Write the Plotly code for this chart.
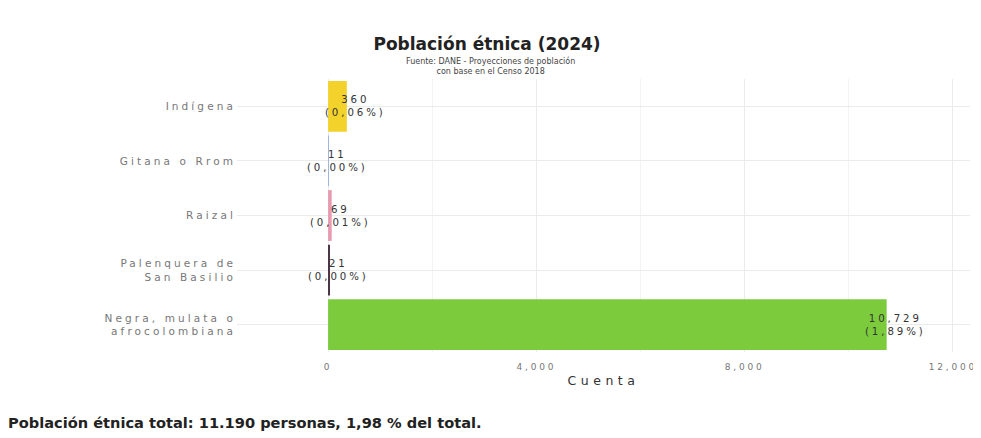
import plotly.graph_objects as go

categories = ["Indígena", "Gitana o Rrom", "Raizal", "Palenquera de<br>San Basilio", "Negra, mulata o<br>afrocolombiana"]
values = [360, 11, 69, 21, 10729]
pct_labels = ["0,06%", "0,00%", "0,01%", "0,00%", "1,89%"]
count_labels = ["360", "11", "69", "21", "10,729"]
colors = ["#F3D22B", "#9DB8E0", "#E79AB0", "#4A3646", "#7BCB3D"]
x_ticks = [0, 4000, 8000, 12000]
x_tick_text = ["0", "4,000", "8,000", "12,000"]

FONT = "DejaVu Sans"


def spaced(t, ls):
    return "<br>".join(f"<span style='letter-spacing:{ls}px'>{p}</span>" for p in t.split("<br>"))


fig = go.Figure()
fig.add_trace(go.Bar(
    y=categories, x=values, orientation="h",
    marker=dict(color=colors, line=dict(width=0)),
    width=0.93, showlegend=False, hoverinfo="skip",
))

for cat, v, c, p in zip(categories, values, count_labels, pct_labels):
    fig.add_annotation(
        x=v, y=cat, xref="x", yref="y",
        text=spaced(f"{c}<br>({p})", 2.9), showarrow=False,
        xanchor="center", yanchor="middle", xshift=9,
        font=dict(family=FONT, size=10.2, color="#333333"),
    )

L, R, T, B = 229, 19, 71, 94
PW = 981 - L - R
PH = 438 - T - B

fig.add_annotation(
    xref="paper", yref="paper", x=(482 - L) / PW, y=(PH - (58 - T)) / PH,
    text="Fuente: DANE - Proyecciones de población<br>con base en el Censo 2018",
    showarrow=False, xanchor="center", yanchor="middle",
    font=dict(family=FONT, size=8, color="#444444"),
)

fig.add_annotation(
    xref="paper", yref="paper", x=(-2 - L) / PW, y=(PH - (414 - T)) / PH,
    text="<b>Población étnica total: 11.190 personas, 1,98 % del total.</b>",
    showarrow=False, xanchor="left", yanchor="middle",
    font=dict(family=FONT, size=14.6, color="#222222"),
)

fig.update_layout(
    width=981, height=438,
    margin=dict(l=L, r=R, t=T, b=B),
    paper_bgcolor="white", plot_bgcolor="white",
    title=dict(text="<b>Población étnica (2024)</b>", x=479 / 981, xref="container", xanchor="center",
               y=1 - 36 / 438, yanchor="middle", yref="container",
               font=dict(family=FONT, size=17, color="#222222")),
    font=dict(family=FONT),
    bargap=0.07,
)
fig.update_xaxes(
    range=[-1750, 12330], tickvals=x_ticks, ticktext=[spaced(t, 2.8) for t in x_tick_text],
    showgrid=True, gridcolor="#EBEBEB", gridwidth=1,
    minor=dict(dtick=2000, tick0=0, showgrid=True, gridcolor="#F3F3F3", gridwidth=0.6),
    zeroline=False, showline=False, ticks="", ticklabelstandoff=8,
    tickfont=dict(family=FONT, size=9, color="#777777"),
    title=dict(text=spaced("Cuenta", 4.5), font=dict(family=FONT, size=12.5, color="#333333"), standoff=5),
)
fig.update_yaxes(
    categoryorder="array", categoryarray=categories, autorange="reversed",
    tickvals=categories, ticktext=[spaced(c, 3.1) for c in categories],
    showgrid=True, gridcolor="#EBEBEB", gridwidth=1,
    zeroline=False, showline=False, ticks="",
    tickfont=dict(family=FONT, size=10.5, color="#777777"),
)

fig.write_html("out.html")
